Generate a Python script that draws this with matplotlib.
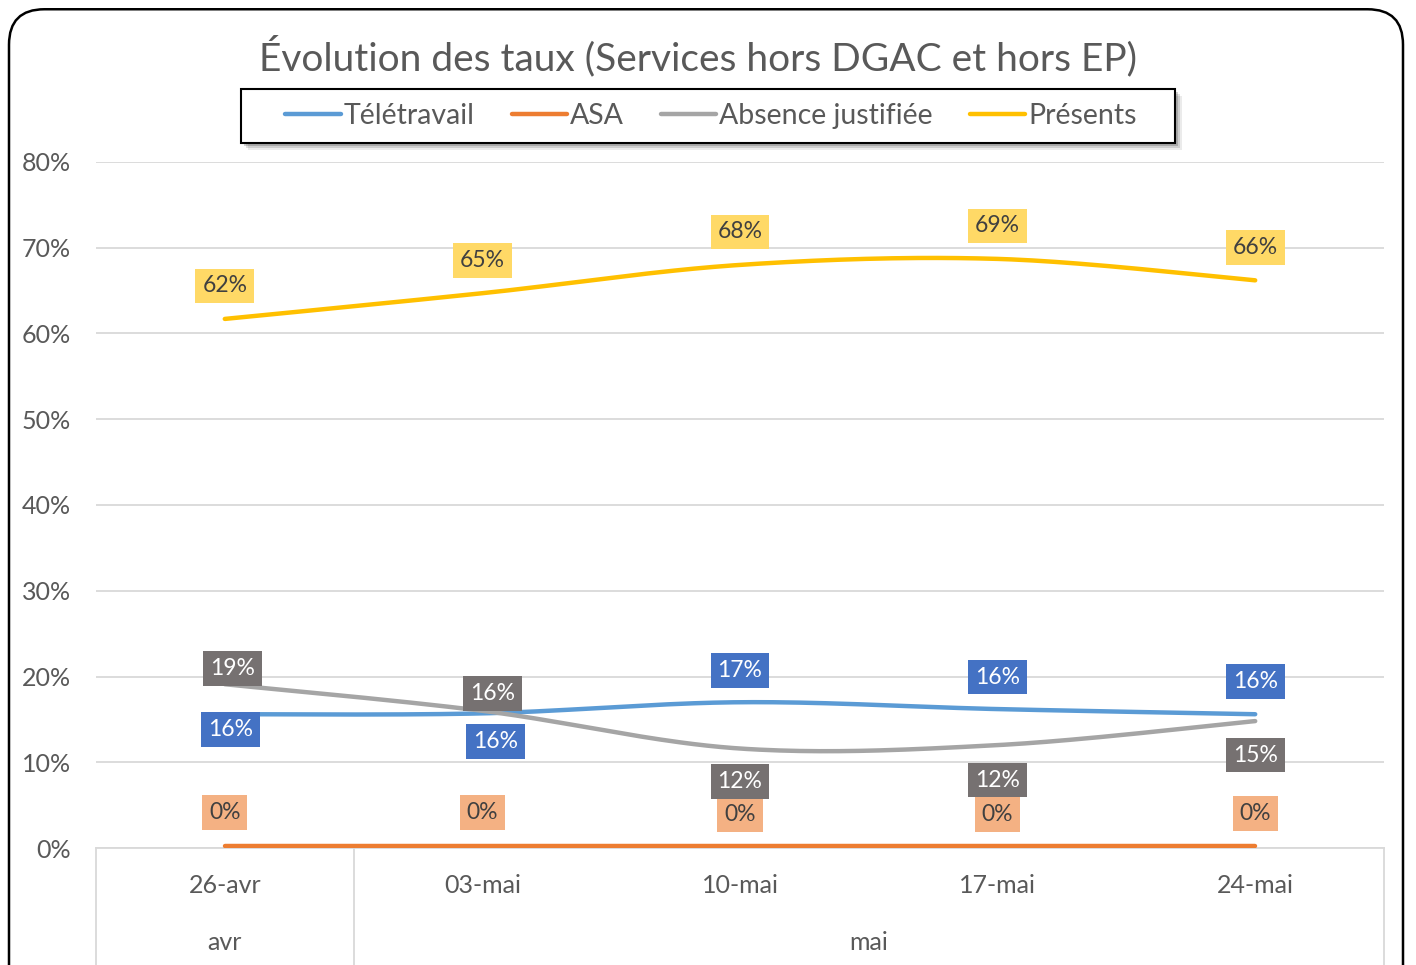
import numpy as np
import matplotlib.pyplot as plt
from matplotlib.lines import Line2D
from matplotlib.patches import FancyBboxPatch, Rectangle

plt.rcParams['font.family'] = ['Lato', 'DejaVu Sans']

# data (percent)
dates = ["26-avr", "03-mai", "10-mai", "17-mai", "24-mai"]
months = ["avr", "mai"]
month_span = [1, 4]
teletravail = [15.6, 15.7, 17.0, 16.2, 15.6]
asa = [0.2, 0.2, 0.2, 0.2, 0.2]
absence = [19.1, 16.0, 11.6, 12.0, 14.8]
presents = [61.7, 64.7, 68.0, 68.7, 66.2]

series = [
    ("Télétravail", teletravail, "#5B9BD5", "#4472C4", "white"),
    ("ASA", asa, "#ED7D31", "#F4B183", "#404040"),
    ("Absence justifiée", absence, "#A5A5A5", "#767171", "white"),
    ("Présents", presents, "#FFC000", "#FFD966", "#404040"),
]

# label offsets in pixels (dx, dy), dy positive = up
label_offsets = {
    "Télétravail": [(6, -15), (13, -28), (0, 32), (0, 32), (0, 33)],
    "ASA": [(0, 34), (0, 34), (0, 32), (0, 32), (0, 33)],
    "Absence justifiée": [(8, 16), (10, 17), (0, -33), (0, -35), (0, -34)],
    "Présents": [(0, 33), (0, 33), (0, 33), (0, 33), (0, 33)],
}


def smooth(y, n=40):
    # Excel-like bezier smoothing
    x = np.arange(len(y), dtype=float)
    y = np.asarray(y, dtype=float)
    pts = np.column_stack([x, y])
    out = []
    for i in range(len(pts) - 1):
        p0 = pts[max(i - 1, 0)]
        p1 = pts[i]
        p2 = pts[i + 1]
        p3 = pts[min(i + 2, len(pts) - 1)]
        c1 = p1 + (p2 - p0) / 6
        c2 = p2 - (p3 - p1) / 6
        t = np.linspace(0, 1, n)[:, None]
        seg = ((1 - t) ** 3) * p1 + 3 * ((1 - t) ** 2) * t * c1 + 3 * (1 - t) * t ** 2 * c2 + t ** 3 * p2
        out.append(seg if i == 0 else seg[1:])
    out = np.vstack(out)
    return out[:, 0], out[:, 1]


W, H = 1416, 965
fig = plt.figure(figsize=(W / 100, H / 100), dpi=100)
ax = fig.add_axes([96 / W, 1 - 848 / H, (1384 - 96) / W, (848 - 162) / H])

# outer frame
frame = FancyBboxPatch((9 / W, -0.05), (1403 - 9) / W, (H + 48 - 9) / H,
                       boxstyle="round,pad=0,rounding_size=0.025",
                       transform=fig.transFigure, facecolor="none",
                       edgecolor="black", linewidth=1.8, mutation_aspect=W / H)
fig.patches.append(frame)

ax.set_xlim(-0.5, len(dates) - 0.5)
ax.set_ylim(0, 80)
ax.set_yticks(np.arange(0, 81, 10))
ax.set_yticklabels([f"{v}%" for v in range(0, 81, 10)], fontsize=18, color="#595959")
ax.yaxis.grid(True, color="#D9D9D9", linewidth=1.3)
ax.set_axisbelow(True)
for s in ax.spines.values():
    s.set_visible(False)
ax.tick_params(axis="y", length=0, pad=18)
ax.set_xticks([])

for name, vals, lc, bc, tc in series:
    xs, ys = smooth(vals)
    ax.plot(xs, ys, color=lc, linewidth=3.2, solid_capstyle="round", zorder=3)
    for i, v in enumerate(vals):
        dx, dy = label_offsets[name][i]
        ax.annotate(f"{round(v)}%", (i, v), xytext=(dx, dy), textcoords="offset pixels",
                    ha="center", va="center", fontsize=16.5, color=tc, zorder=5,
                    bbox=dict(boxstyle="square,pad=0.3", facecolor=bc, edgecolor="none"))

# category axis
trans = ax.get_xaxis_transform()
ax.plot([-0.5, 4.5], [0, 0], color="#D9D9D9", linewidth=1.3, transform=trans, clip_on=False, zorder=2)
for i, d in enumerate(dates):
    ax.text(i, -0.055, d, transform=trans, ha="center", va="center", fontsize=18, color="#595959")
start = 0
bounds = [-0.5]
for m, span in zip(months, month_span):
    mid = start + (span - 1) / 2
    ax.text(mid, -0.138, m, transform=trans, ha="center", va="center", fontsize=18, color="#595959")
    start += span
    bounds.append(start - 0.5)
for b in bounds:
    ax.plot([b, b], [0, -0.175], color="#D9D9D9", linewidth=1.3, transform=trans, clip_on=False)

fig.text(698 / W, 1 - 56 / H, "Évolution des taux (Services hors DGAC et hors EP)",
         ha="center", va="center", fontsize=28, color="#595959")

# legend box with soft shadow
lx0, ly0, lx1, ly1 = 241, 89, 1175, 143
for k, a in [(7, 0.08), (5, 0.12), (3, 0.18)]:
    fig.patches.append(Rectangle(((lx0 + k) / W, 1 - (ly1 + k) / H), (lx1 - lx0) / W, (ly1 - ly0) / H,
                                 transform=fig.transFigure, facecolor="black", alpha=a,
                                 edgecolor="none", zorder=1))
fig.patches.append(Rectangle((lx0 / W, 1 - ly1 / H), (lx1 - lx0) / W, (ly1 - ly0) / H,
                             transform=fig.transFigure, facecolor="white",
                             edgecolor="black", linewidth=1.5, zorder=2))

handles = [Line2D([0], [0], color=lc, linewidth=3.2, solid_capstyle="round") for _, _, lc, _, _ in series]
leg = fig.legend(handles, [s[0] for s in series], loc="center", ncol=4,
                 bbox_to_anchor=(711 / W, 1 - 116 / H), fontsize=20.5, frameon=False,
                 handlelength=1.95, handletextpad=0.1, columnspacing=1.3, borderpad=0.3)
leg.set_zorder(3)
for t in leg.get_texts():
    t.set_color("#595959")

fig.savefig("out.png", dpi=100)
